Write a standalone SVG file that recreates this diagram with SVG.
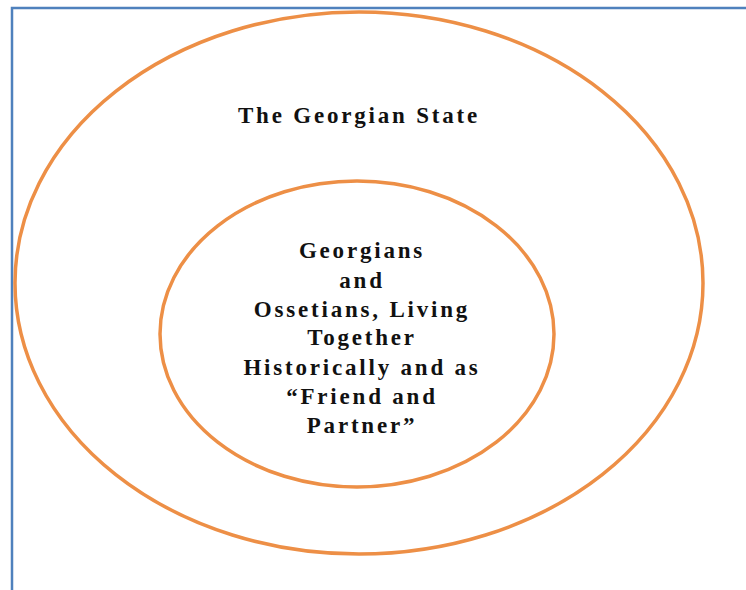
<svg xmlns="http://www.w3.org/2000/svg" width="746" height="590" viewBox="0 0 746 590">
<style>
.ring{fill:none;stroke:#ED8F46;stroke-width:3.5}
.t{font-family:"Liberation Serif","Times New Roman",serif;font-weight:bold;font-size:23px;fill:#111;text-anchor:middle;letter-spacing:2.8px}
</style>
<rect x="0" y="0" width="746" height="590" fill="#fff"/>
<rect x="12" y="8" width="760" height="600" fill="none" stroke="#4F81BD" stroke-width="2.5"/>
<g id="outer">
<ellipse class="ring" cx="359" cy="283" rx="344" ry="271"/>
<text class="t" x="359" y="123">The Georgian State</text>
</g>
<g id="inner">
<ellipse class="ring" cx="357" cy="334" rx="197" ry="153"/>
<text class="t" x="362" y="258">Georgians</text>
<text class="t" x="362" y="288">and</text>
<text class="t" x="362" y="317">Ossetians, Living</text>
<text class="t" x="362" y="345">Together</text>
<text class="t" x="362" y="375">Historically and as</text>
<text class="t" x="362" y="404">“Friend and</text>
<text class="t" x="362" y="433">Partner”</text>
</g>
<g id="connectors"></g>
</svg>
